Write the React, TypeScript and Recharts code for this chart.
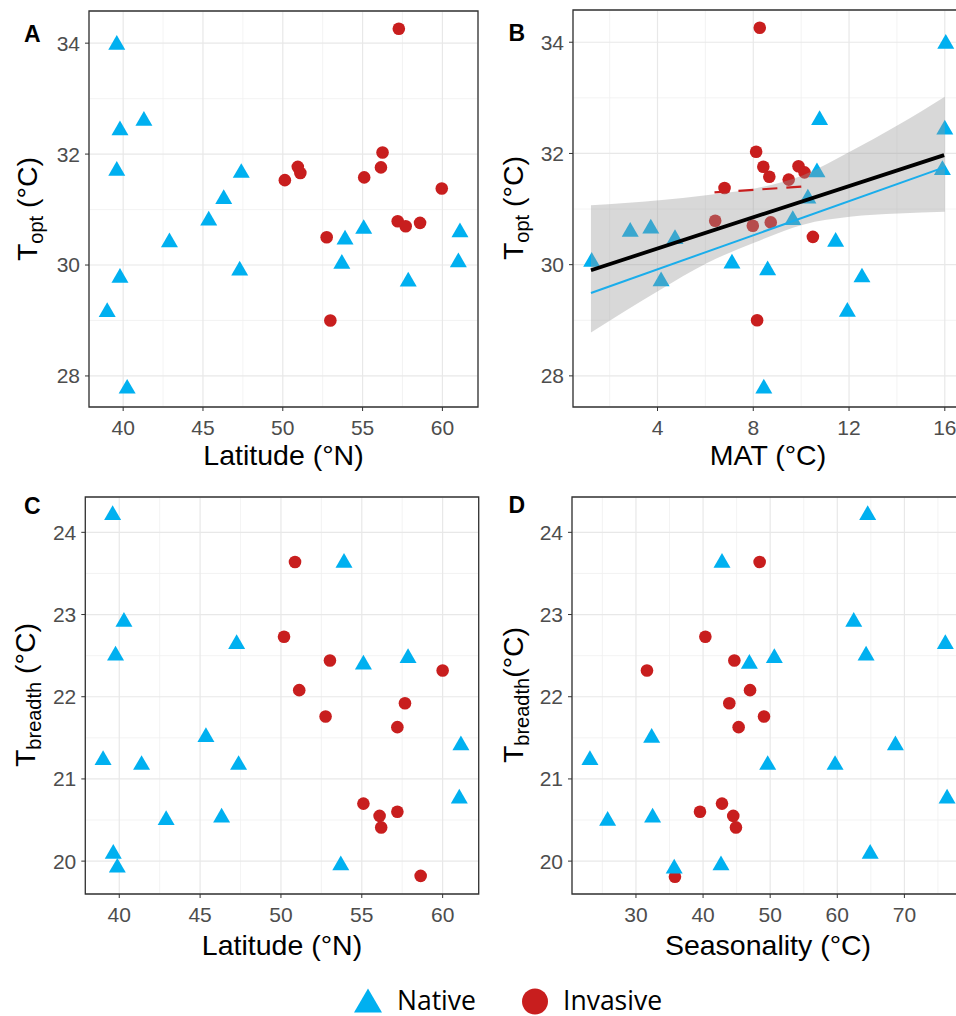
import type { ReactElement, ReactNode } from "react";
import { Area, CartesianGrid, ComposedChart, ReferenceArea, Scatter, XAxis, YAxis } from "recharts";

const NATIVE_COLOR = "#00B0F0";
const INVASIVE_COLOR = "#C81E1E";
const FONT = "'Liberation Sans', Arial, Helvetica, sans-serif";

// A: latitude vs Topt
const nativeLatA = [39.6, 39.8, 41.3, 39.6, 39.8, 39.0, 40.25, 42.9, 45.36, 46.3, 47.4, 47.3, 53.9, 53.7, 55.07, 57.86, 61.1, 61.0];
const nativeToptA = [33.97, 32.43, 32.6, 31.7, 29.77, 29.15, 27.77, 30.41, 30.8, 31.19, 31.66, 29.9, 30.46, 30.02, 30.65, 29.7, 30.59, 30.05];
const invasiveLatA = [57.27, 56.25, 56.15, 50.94, 51.1, 50.13, 55.1, 59.96, 57.2, 57.7, 58.6, 52.75, 52.98];
const invasiveToptA = [34.26, 32.03, 31.76, 31.77, 31.66, 31.53, 31.58, 31.38, 30.79, 30.7, 30.76, 30.5, 29.0];

// B: MAT vs Topt
const nativeMatB = [16.04, 16.0, 10.77, 15.9, 12.54, 11.93, 8.44, 11.44, 9.65, 10.28, 10.66, 8.6, 4.73, 7.11, 3.72, 4.15, 2.86, 1.25];
const nativeToptB = [33.97, 32.43, 32.6, 31.7, 29.77, 29.15, 27.77, 30.41, 30.8, 31.19, 31.66, 29.9, 30.46, 30.02, 30.65, 29.7, 30.59, 30.05];
const invasiveMatB = [8.27, 8.12, 8.42, 8.67, 9.89, 10.14, 9.48, 6.8, 6.41, 7.98, 8.73, 10.49, 8.16];
const invasiveToptB = [34.26, 32.03, 31.76, 31.58, 31.77, 31.66, 31.53, 31.38, 30.79, 30.7, 30.76, 30.5, 29.0];

// B: fitted lines and confidence band
const fitAllMat = [1.22, 15.97];
const fitAllTopt = [29.9, 31.97];
const fitNativeMat = [1.22, 15.97];
const fitNativeTopt = [29.49, 31.75];
const fitInvasiveMat = [6.38, 10.29];
const fitInvasiveTopt = [31.3, 31.41];
const bandMat = [1.22, 4.08, 6.03, 8.06, 10.08, 12.03, 14.05, 16.0];
const bandLow = [28.78, 29.54, 30.02, 30.4, 30.72, 30.86, 30.92, 30.95];
const bandHigh = [31.07, 31.16, 31.25, 31.37, 31.61, 32.03, 32.51, 33.02];

// C: latitude vs Tbreadth
const nativeLatC = [39.59, 40.29, 39.77, 47.26, 53.9, 55.1, 57.86, 45.36, 39.0, 41.38, 47.38, 42.9, 46.33, 61.13, 61.03, 39.63, 39.88, 53.7];
const nativeBreadthC = [24.21, 22.91, 22.5, 22.64, 23.63, 22.39, 22.47, 21.51, 21.23, 21.17, 21.17, 20.5, 20.53, 21.41, 20.76, 20.09, 19.92, 19.95];
const invasiveLatC = [50.87, 50.19, 53.03, 60.0, 51.13, 57.67, 52.76, 57.2, 55.1, 56.1, 56.2, 57.2, 58.64];
const invasiveBreadthC = [23.64, 22.73, 22.44, 22.32, 22.08, 21.92, 21.76, 21.63, 20.7, 20.55, 20.41, 20.6, 19.82];

// D: seasonality vs Tbreadth
const nativeSeasD = [64.53, 42.82, 62.45, 76.1, 64.29, 46.9, 50.62, 32.34, 23.14, 49.63, 59.67, 68.66, 76.36, 25.78, 32.48, 64.9, 35.7, 42.67];
const nativeBreadthD = [24.21, 23.63, 22.91, 22.64, 22.5, 22.4, 22.47, 21.5, 21.23, 21.17, 21.17, 21.41, 20.76, 20.49, 20.53, 20.09, 19.91, 19.95];
const invasiveSeasD = [48.43, 40.34, 31.64, 44.66, 47.0, 43.91, 49.08, 45.3, 42.82, 39.54, 44.5, 44.9, 35.81];
const invasiveBreadthD = [23.64, 22.73, 22.32, 22.44, 22.08, 21.92, 21.76, 21.63, 20.7, 20.6, 20.55, 20.41, 19.81];

const latTicks = [40, 45, 50, 55, 60];
const latMinor = [42.5, 47.5, 52.5, 57.5];
const matTicks = [4, 8, 12, 16];
const matMinor = [2, 6, 10, 14];
const seasTicks = [30, 40, 50, 60, 70];
const seasMinor = [25, 35, 45, 55, 65, 75];
const toptTicks = [28, 30, 32, 34];
const toptMinor = [29, 31, 33];
const breadthTicks = [20, 21, 22, 23, 24];
const breadthMinor = [20.5, 21.5, 22.5, 23.5];

const toPoints = (xs: number[], ys: number[]) => xs.map((x, i) => ({ x, y: ys[i] }));
const bandRows = bandMat.map((x, i) => ({ x, range: [bandLow[i], bandHigh[i]] }));

function Triangle(props: any): ReactElement {
  const { cx, cy } = props;
  const s = 17;
  const h = (s * Math.sqrt(3)) / 2;
  return <path d={`M${cx},${cy - (2 * h) / 3}L${cx + s / 2},${cy + h / 3}L${cx - s / 2},${cy + h / 3}Z`} fill={NATIVE_COLOR} />;
}

function Dot(props: any): ReactElement {
  return <circle cx={props.cx} cy={props.cy} r={6.3} fill={INVASIVE_COLOR} />;
}

const NoDot = (): ReactElement => <g />;

interface PanelProps {
  left: number;
  top: number;
  width: number;
  height: number;
  margin: { top: number; right: number; bottom: number; left: number };
  xAxisHeight: number;
  xDomain: [number, number];
  yDomain: [number, number];
  xTicks: number[];
  xMinor: number[];
  yTicks: number[];
  yMinor: number[];
  data?: object[];
  children: ReactNode;
}

function Panel(p: PanelProps): ReactElement {
  const tick = { fill: "#4D4D4D", fontSize: 21, fontFamily: FONT };
  return (
    <div style={{ position: "absolute", left: p.left, top: p.top, width: p.width, height: p.height }}>
      <ComposedChart width={p.width} height={p.height} margin={p.margin} data={p.data}>
        <CartesianGrid stroke="#F0F0F0" strokeWidth={0.8} horizontalValues={p.yMinor} verticalValues={p.xMinor} />
        <CartesianGrid stroke="#E8E8E8" strokeWidth={1.2} />
        <XAxis
          type="number"
          dataKey="x"
          domain={p.xDomain}
          ticks={p.xTicks}
          interval={0}
          allowDataOverflow
          height={p.xAxisHeight}
          axisLine={false}
          tickLine={{ stroke: "#333333" }}
          tickSize={4}
          tickMargin={9}
          tick={tick}
        />
        <YAxis
          type="number"
          dataKey="y"
          domain={p.yDomain}
          ticks={p.yTicks}
          interval={0}
          allowDataOverflow
          width={60}
          axisLine={false}
          tickLine={{ stroke: "#333333" }}
          tickSize={4}
          tickMargin={5}
          tick={tick}
        />
        {p.children}
        <ReferenceArea
          x1={p.xDomain[0]}
          x2={p.xDomain[1]}
          y1={p.yDomain[0]}
          y2={p.yDomain[1]}
          fill="none"
          stroke="#333333"
          strokeWidth={1.3}
          ifOverflow="visible"
        />
      </ComposedChart>
    </div>
  );
}

function Titles(): ReactElement {
  const title = { fontFamily: FONT, fontSize: 28.5, fill: "#000" };
  const letter = { fontFamily: FONT, fontSize: 23, fontWeight: 700, fill: "#000" };
  const legend = { fontFamily: "'Open Sans', 'Noto Sans', sans-serif", fontSize: 26.5, fill: "#000" };
  return (
    <svg width={956} height={1016} style={{ position: "absolute", left: 0, top: 0, pointerEvents: "none" }}>
      <text x={24} y={42} {...letter}>A</text>
      <text x={508.5} y={41} {...letter}>B</text>
      <text x={24} y={513.5} {...letter}>C</text>
      <text x={508.5} y={513} {...letter}>D</text>

      <text x={283.5} y={465} textAnchor="middle" {...title}>Latitude (°N)</text>
      <text x={768} y={465} textAnchor="middle" {...title}>MAT (°C)</text>
      <text x={282} y={954.5} textAnchor="middle" {...title}>Latitude (°N)</text>
      <text x={768} y={954.5} textAnchor="middle" {...title}>Seasonality (°C)</text>

      <text transform="translate(37,209) rotate(-90)" textAnchor="middle" {...title}>
        T<tspan fontSize={20} dy={6}>opt</tspan>
        <tspan dy={-6}> (°C)</tspan>
      </text>
      <text transform="translate(523,208) rotate(-90)" textAnchor="middle" {...title}>
        T<tspan fontSize={20} dy={6}>opt</tspan>
        <tspan dy={-6}> (°C)</tspan>
      </text>
      <text transform="translate(35,695) rotate(-90)" textAnchor="middle" {...title}>
        T<tspan fontSize={20} dy={6}>breadth</tspan>
        <tspan dy={-6}> (°C)</tspan>
      </text>
      <text transform="translate(523,695) rotate(-90)" textAnchor="middle" {...title}>
        T<tspan fontSize={20} dy={6}>breadth</tspan>
        <tspan dy={-6}>(°C)</tspan>
      </text>

      <path d="M368,988.5L382,1012.5L354,1012.5Z" fill={NATIVE_COLOR} />
      <text x={397} y={1009.5} {...legend}>Native</text>
      <circle cx={535} cy={1001.5} r={13} fill={INVASIVE_COLOR} />
      <text x={563} y={1009.5} {...legend}>Invasive</text>
    </svg>
  );
}

export default function App(): ReactElement {
  return (
    <div style={{ position: "absolute", left: 0, top: 0, width: 956, height: 1016, overflow: "hidden", background: "#fff" }}>
      <Panel
        left={0}
        top={0}
        width={480}
        height={490}
        margin={{ top: 11, right: 2, bottom: 33, left: 29 }}
        xAxisHeight={50}
        xDomain={[37.86, 62.23]}
        yDomain={[27.44, 34.58]}
        xTicks={latTicks}
        xMinor={latMinor}
        yTicks={toptTicks}
        yMinor={toptMinor}
      >
        <Scatter data={toPoints(invasiveLatA, invasiveToptA)} shape={Dot} isAnimationActive={false} />
        <Scatter data={toPoints(nativeLatA, nativeToptA)} shape={Triangle} isAnimationActive={false} />
      </Panel>

      <Panel
        left={476}
        top={0}
        width={490}
        height={490}
        margin={{ top: 10, right: 3, bottom: 33, left: 37 }}
        xAxisHeight={50}
        xDomain={[0.47, 16.76]}
        yDomain={[27.44, 34.58]}
        xTicks={matTicks}
        xMinor={matMinor}
        yTicks={toptTicks}
        yMinor={toptMinor}
        data={bandRows}
      >
        <Scatter data={toPoints(invasiveMatB, invasiveToptB)} shape={Dot} isAnimationActive={false} zIndex={300} />
        <Scatter data={toPoints(nativeMatB, nativeToptB)} shape={Triangle} isAnimationActive={false} zIndex={300} />
        <Area
          dataKey="range"
          type="monotone"
          stroke="none"
          fill="#999999"
          fillOpacity={0.38}
          dot={false}
          activeDot={false}
          isAnimationActive={false}
          zIndex={400}
        />
        <Scatter
          data={toPoints(fitNativeMat, fitNativeTopt)}
          shape={NoDot}
          line={{ stroke: "#1AADEB", strokeWidth: 2 }}
          isAnimationActive={false}
          zIndex={500}
        />
        <Scatter
          data={toPoints(fitAllMat, fitAllTopt)}
          shape={NoDot}
          line={{ stroke: "#000000", strokeWidth: 3.8 }}
          isAnimationActive={false}
          zIndex={500}
        />
        <Scatter
          data={toPoints(fitInvasiveMat, fitInvasiveTopt)}
          shape={NoDot}
          line={{ stroke: INVASIVE_COLOR, strokeWidth: 2.2, strokeDasharray: "15 9" }}
          isAnimationActive={false}
          zIndex={500}
        />
      </Panel>

      <Panel
        left={0}
        top={490}
        width={480}
        height={440}
        margin={{ top: 7, right: 1.3, bottom: 6, left: 25.3 }}
        xAxisHeight={30}
        xDomain={[37.9, 62.23]}
        yDomain={[19.6, 24.43]}
        xTicks={latTicks}
        xMinor={latMinor}
        yTicks={breadthTicks}
        yMinor={breadthMinor}
      >
        <Scatter data={toPoints(invasiveLatC, invasiveBreadthC)} shape={Dot} isAnimationActive={false} />
        <Scatter data={toPoints(nativeLatC, nativeBreadthC)} shape={Triangle} isAnimationActive={false} />
      </Panel>

      <Panel
        left={476}
        top={490}
        width={500}
        height={440}
        margin={{ top: 7, right: 11.2, bottom: 6, left: 36 }}
        xAxisHeight={30}
        xDomain={[20.47, 79.0]}
        yDomain={[19.6, 24.43]}
        xTicks={seasTicks}
        xMinor={seasMinor}
        yTicks={breadthTicks}
        yMinor={breadthMinor}
      >
        <Scatter data={toPoints(invasiveSeasD, invasiveBreadthD)} shape={Dot} isAnimationActive={false} />
        <Scatter data={toPoints(nativeSeasD, nativeBreadthD)} shape={Triangle} isAnimationActive={false} />
      </Panel>

      <Titles />
    </div>
  );
}
